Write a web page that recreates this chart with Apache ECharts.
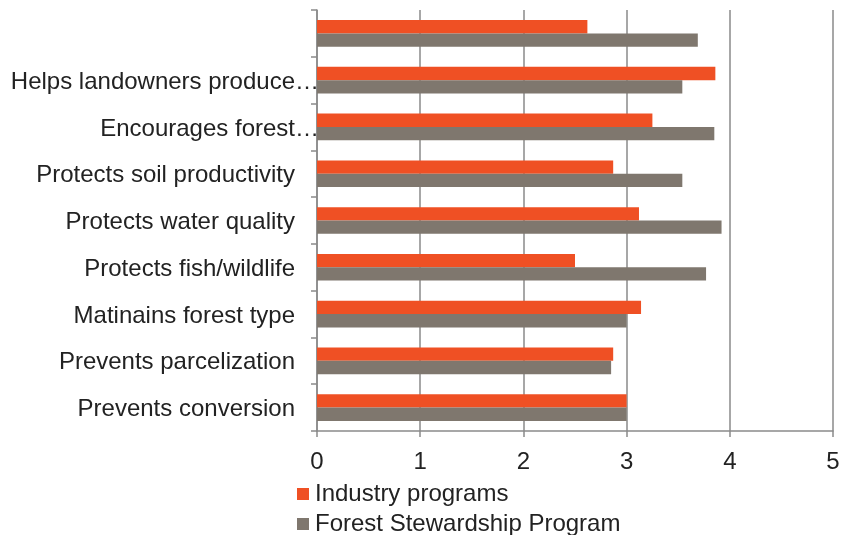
<!DOCTYPE html>
<html><head><meta charset="utf-8">
<script src="https://cdn.jsdelivr.net/npm/echarts@6/dist/echarts.min.js"></script>
<style>html,body{margin:0;padding:0;background:#fff}#c{width:844px;height:535px}</style>
</head><body><div id="c"></div>
<script>
const categories = ['Prevents conversion','Prevents parcelization','Matinains forest type','Protects fish/wildlife','Protects water quality','Protects soil productivity','Encourages forest…','Helps landowners produce…',''];
const industry = [3.0, 2.87, 3.14, 2.50, 3.12, 2.87, 3.25, 3.86, 2.62];
const stewardship = [3.0, 2.85, 3.0, 3.77, 3.92, 3.54, 3.85, 3.54, 3.69];
const seriesNames = ['Industry programs','Forest Stewardship Program'];
const xTicks = [0,1,2,3,4,5];

const chart = echarts.init(document.getElementById('c'));
const font = 'Liberation Sans, Arial, sans-serif';
const fs = 24;
chart.setOption({
  animation:false,
  textStyle:{fontFamily:font},
  grid:{left:317,right:11,top:10,bottom:104,containLabel:false},
  legend:{orient:'vertical',left:297,top:482,height:80,padding:0,itemWidth:12,itemHeight:12,itemGap:6,icon:'rect',
    data:seriesNames,textStyle:{fontSize:fs,color:'#222',fontFamily:font,padding:[0,0,0,1]}},
  xAxis:{type:'value',min:xTicks[0],max:xTicks[xTicks.length-1],interval:1,
    axisLine:{show:true,lineStyle:{color:'#8a8a8a',width:1.5}},
    axisTick:{show:true,length:6,lineStyle:{color:'#8a8a8a',width:1.5}},
    splitLine:{show:true,lineStyle:{color:'#8a8a8a',width:1.5}},
    axisLabel:{fontSize:fs,color:'#222',margin:19,fontFamily:font}},
  yAxis:{type:'category',data:categories,
    axisLine:{show:true,lineStyle:{color:'#8a8a8a',width:1.5}},
    axisTick:{show:true,length:6,lineStyle:{color:'#8a8a8a',width:1.5}},
    axisLabel:{fontSize:fs,color:'#222',margin:-2,fontFamily:font,
      formatter:function(v){return v.endsWith('…')?'{t|'+v+'}':'{n|'+v+'}';},
      rich:{t:{fontSize:fs,color:'#222',fontFamily:font,padding:[4,0,0,0]},n:{fontSize:fs,color:'#222',fontFamily:font,padding:[4,24,0,0]}}}},
  series:[
    {name:seriesNames[0],type:'bar',data:industry,itemStyle:{color:'#ef5024'},barGap:'0%',barCategoryGap:'43%'},
    {name:seriesNames[1],type:'bar',data:stewardship,itemStyle:{color:'#7f776e'},barGap:'0%',barCategoryGap:'43%'}
  ]
});
</script></body></html>
